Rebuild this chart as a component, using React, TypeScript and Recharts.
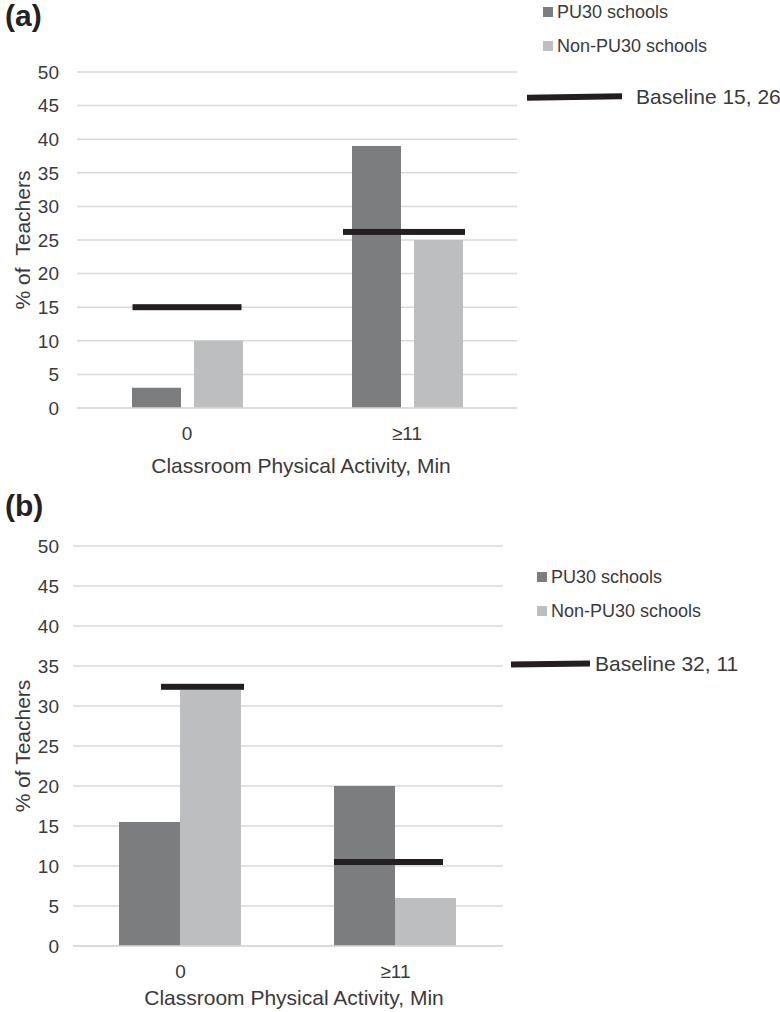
import { ComposedChart, Bar, Scatter, XAxis, YAxis, CartesianGrid } from "recharts";

const categories = ["0", "≥11"];
const yTicks = [0, 5, 10, 15, 20, 25, 30, 35, 40, 45, 50];
const seriesNames = ["PU30 schools", "Non-PU30 schools"];

// panel (a)
const pu30A = [3, 39];
const nonPu30A = [10, 25];
const baselineA = [15, 26.2];

// panel (b)
const pu30B = [15.5, 20];
const nonPu30B = [32, 6];
const baselineB = [32.4, 10.5];

const FONT = '"Liberation Sans", Arial, sans-serif';
const DARK = "#7c7d7f";
const LIGHT = "#bdbec0";
const INK = "#231f20";
const GRID = "#d9d9d9";
const TEXT = "#3a3a3a";

const buildRows = (pu30: number[], non: number[], base: number[]) =>
  categories.map((c, i) => ({ category: c, pu30: pu30[i], non: non[i], baseline: base[i] }));

type PanelProps = {
  letter: string;
  top: number;
  height: number;
  rows: any[];
  plotLeft: number;
  plotRight: number;
  plotTop: number;
  xAxisHeight: number;
  barGap: number;
  barCategoryGap: string;
  yLabel: string;
  yLabelDx: number;
  xLabelDx: number;
  dashWidths: number[];
  dashOffsets: number[];
  legendTop: number;
  legendLeft: number;
  baselineLabel: string;
  baselineTop: number;
  baselineLeft: number;
  baselineLen: number;
  baselineGap: number;
};

function Panel(p: PanelProps) {
  const dash = (props: any) => {
    const i = categories.indexOf(props.payload?.category);
    const w = p.dashWidths[i] ?? 110;
    const off = p.dashOffsets[i] ?? 0;
    return <rect x={props.cx - w / 2 + off} y={props.cy - 3} width={w} height={6} fill={INK} />;
  };

  return (
    <div style={{ position: "absolute", left: 0, top: p.top, width: 780, height: p.height }}>
      <div
        style={{
          position: "absolute",
          left: 5,
          top: 0,
          fontSize: 30,
          fontWeight: "bold",
          color: "#222",
          lineHeight: "32px",
        }}
      >
        {p.letter}
      </div>

      <ComposedChart
        width={780}
        height={p.height}
        data={p.rows}
        margin={{ top: p.plotTop, right: 780 - p.plotRight, left: 0, bottom: 0 }}
        barGap={p.barGap}
        barCategoryGap={p.barCategoryGap}
      >
        <CartesianGrid vertical={false} stroke={GRID} strokeWidth={1.5} />
        <XAxis
          dataKey="category"
          height={p.xAxisHeight}
          tickSize={0}
          tickMargin={19}
          axisLine={{ stroke: GRID, strokeWidth: 1.5 }}
          tick={{ fontSize: 19, fill: TEXT }}
          label={{
            value: "Classroom Physical Activity, Min",
            position: "insideBottom",
            offset: 7,
            dx: p.xLabelDx,
            fontSize: 21,
            fill: TEXT,
          }}
        />
        <YAxis
          width={p.plotLeft}
          domain={[0, 50]}
          ticks={yTicks}
          interval={0}
          tickSize={0}
          tickMargin={p.plotLeft - 59}
          axisLine={false}
          tick={{ fontSize: 19, fill: TEXT }}
          label={{
            value: p.yLabel,
            angle: -90,
            position: "center",
            dx: p.yLabelDx,
            fontSize: 21,
            fill: TEXT,
          }}
        />
        <Bar dataKey="pu30" name={seriesNames[0]} fill={DARK} isAnimationActive={false} />
        <Bar dataKey="non" name={seriesNames[1]} fill={LIGHT} isAnimationActive={false} />
        <Scatter dataKey="baseline" name="Baseline" shape={dash} isAnimationActive={false} />
      </ComposedChart>

      <div style={{ position: "absolute", left: p.legendLeft, top: p.legendTop, fontSize: 18, color: TEXT }}>
        {seriesNames.map((n, i) => (
          <div key={n} style={{ display: "flex", alignItems: "center", height: 34 }}>
            <span
              style={{
                display: "inline-block",
                width: 10,
                height: 10,
                background: i === 0 ? DARK : LIGHT,
                marginRight: 4,
              }}
            />
            {n}
          </div>
        ))}
      </div>

      <div
        style={{
          position: "absolute",
          left: p.baselineLeft,
          top: p.baselineTop - 15,
          height: 30,
          display: "flex",
          alignItems: "center",
          fontSize: 21,
          color: TEXT,
          whiteSpace: "nowrap",
        }}
      >
        <span
          style={{
            display: "inline-block",
            width: p.baselineLen,
            height: 6,
            background: INK,
            marginRight: p.baselineGap,
            transform: "rotate(-0.8deg)",
          }}
        />
        {p.baselineLabel}
      </div>
    </div>
  );
}

export default function App() {
  return (
    <div
      style={{
        position: "absolute",
        left: 0,
        top: 0,
        width: 780,
        height: 1012,
        background: "#fff",
        fontFamily: FONT,
      }}
    >
      <Panel
        letter="(a)"
        top={0}
        height={480}
        rows={buildRows(pu30A, nonPu30A, baselineA)}
        plotLeft={77}
        plotRight={517}
        plotTop={72}
        xAxisHeight={72}
        barGap={13}
        barCategoryGap="25%"
        yLabel={"% of\u00a0\u00a0Teachers"}
        yLabelDx={-16}
        xLabelDx={4}
        dashWidths={[109, 122]}
        dashOffsets={[0, -3]}
        legendLeft={543}
        legendTop={-5}
        baselineLabel="Baseline 15, 26"
        baselineTop={97}
        baselineLeft={527}
        baselineLen={95}
        baselineGap={14}
      />
      <Panel
        letter="(b)"
        top={490}
        height={522}
        rows={buildRows(pu30B, nonPu30B, baselineB)}
        plotLeft={73}
        plotRight={503}
        plotTop={56}
        xAxisHeight={66}
        barGap={0}
        barCategoryGap="21.4%"
        yLabel="% of Teachers"
        yLabelDx={-14}
        xLabelDx={6}
        dashWidths={[83, 109]}
        dashOffsets={[22, -7]}
        legendLeft={537}
        legendTop={70}
        baselineLabel="Baseline 32, 11"
        baselineTop={174}
        baselineLeft={511}
        baselineLen={79}
        baselineGap={5}
      />
    </div>
  );
}
